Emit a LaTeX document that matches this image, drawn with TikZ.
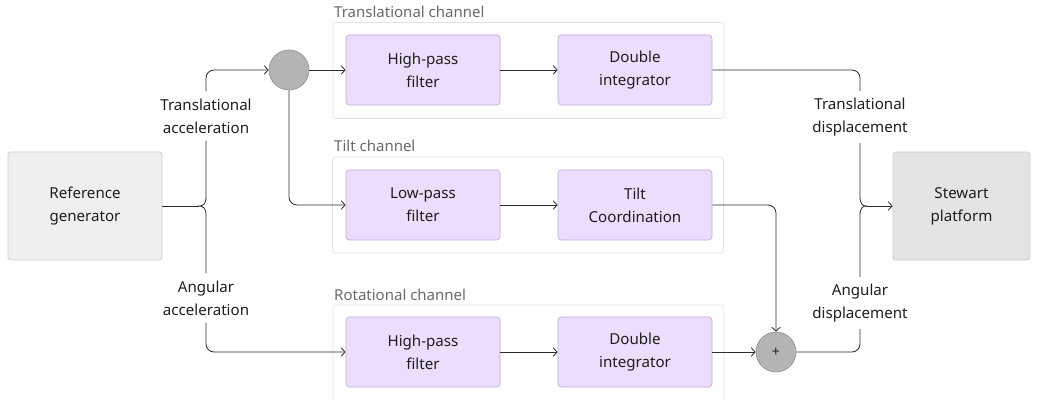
\documentclass[tikz,border=0pt]{standalone}
\usepackage{fontspec}
\setmainfont{Noto Sans}
\usepackage{xcolor}
\usetikzlibrary{arrows.meta,positioning,calc}
\definecolor{boxpurple}{RGB}{236,221,252}
\definecolor{edgepurple}{RGB}{196,170,232}
\definecolor{refgray}{RGB}{239,239,239}
\definecolor{platgray}{RGB}{228,228,228}
\definecolor{edgegray}{RGB}{205,205,205}
\definecolor{framegray}{RGB}{226,226,226}
\definecolor{sumgray}{RGB}{180,180,180}
\definecolor{sumedge}{RGB}{150,150,150}
\definecolor{textdark}{RGB}{30,30,30}
\definecolor{textgray}{RGB}{105,105,105}
\definecolor{linedark}{RGB}{45,45,45}

\begin{document}
\begin{tikzpicture}[x=0.03cm, y=-0.03cm,
    blk/.style={rectangle, draw=edgepurple, fill=boxpurple, rounded corners=1mm, line width=0.6pt,
               minimum width=4.62cm, minimum height=2.1cm, align=center, text=textdark,
               font=\fontsize{12.9}{19.5}\selectfont},
    endbox/.style={rectangle, draw=edgegray, rounded corners=0.8mm, line width=0.6pt,
               minimum height=3.24cm, align=center, text=textdark, font=\fontsize{12.9}{19.5}\selectfont},
    frame/.style={rectangle, draw=framegray, fill=white, rounded corners=0.8mm, line width=0.6pt,
               minimum width=11.73cm, minimum height=2.88cm},
    chan/.style={anchor=west, inner sep=0pt, text=textgray, font=\fontsize{12.8}{14}\selectfont},
    lbl/.style={align=center, inner xsep=2pt, inner ysep=6pt, text=textdark,
               font=\fontsize{12.9}{19.5}\selectfont},
    sumnode/.style={circle, draw=sumedge, fill=sumgray, line width=0.6pt, minimum size=1.2cm,
               inner sep=0pt, font=\fontsize{12}{12}\selectfont\bfseries, text=textdark},
    wire/.style={draw=linedark, line width=0.7pt, rounded corners=2.4mm},
    arr/.style={wire, -{Straight Barb[length=1.2mm,width=2.6mm]}}
]
    \useasboundingbox (0,0) rectangle (1037,400);
    \clip (0,0) rectangle (1037,400);

    % channel frames
    \node[frame] (ftrans) at (528.5,70.5) {};
    \node[frame] (ftilt) at (528,205) {};
    \node[frame] (frot) at (528.5,353) {};
    \node[chan] at (334,12) {Translational channel};
    \node[chan] at (334,146) {Tilt channel};
    \node[chan] at (334,295) {Rotational channel};

    % blocks
    \node[endbox, fill=refgray, minimum width=4.62cm] (ref) at (85,206) {Reference\\generator};
    \node[endbox, fill=platgray, minimum width=4.11cm] (plat) at (961.5,206) {Stewart\\platform};
    \node[blk] (hp1) at (423,70) {High-pass\\filter};
    \node[blk] (di1) at (635,70) {Double\\integrator};
    \node[blk] (lp) at (423,205) {Low-pass\\filter};
    \node[blk] (tc) at (635,205) {Tilt\\Coordination};
    \node[blk] (hp2) at (423,352) {High-pass\\filter};
    \node[blk] (di2) at (635,352) {Double\\integrator};
    \node[sumnode] (sumT) at (289,70) {};
    \node[sumnode] (sumR) at (776,352) {+};

    % signal labels
    \node[lbl] (tacc) at (206,116) {Translational\\acceleration};
    \node[lbl] (aacc) at (206,298) {Angular\\acceleration};
    \node[lbl] (tdisp) at (860,117) {Translational\\displacement};
    \node[lbl] (adisp) at (860,303) {Angular\\displacement};

    % junctions
    \coordinate (lj) at (199,206);
    \coordinate (rj) at (866,206);

    % connectors
    \draw[arr] (tacc.north) |- (sumT.west);
    \draw[arr] (sumT.east) -- (hp1.west);
    \draw[arr] (hp1) -- (di1);
    \draw[wire] (di1.east) -| (tdisp.north);
    \draw[arr] (sumT.south) |- (lp.west);
    \draw[arr] (lp) -- (tc);
    \draw[arr] (tc.east) -| (sumR.north);
    \draw[arr] (aacc.south) |- (hp2.west);
    \draw[arr] (hp2) -- (di2);
    \draw[arr] (di2) -- (sumR);
    \draw[wire] (sumR.east) -| (adisp.south);

    \draw[draw=linedark, line width=0.7pt] (ref.east) -- (lj);
    \draw[draw=linedark, line width=0.7pt] (tacc.south) -- (206,197)
        .. controls (206,204) and (203,206) .. (lj)
        .. controls (203,206) and (206,208) .. (206,215) -- (aacc.north);
    \draw[draw=linedark, line width=0.7pt] (tdisp.south) -- (860,197)
        .. controls (860,204) and (863,206) .. (rj)
        .. controls (863,206) and (860,208) .. (860,215) -- (adisp.north);
    \draw[arr] (rj) -- (plat.west);
\end{tikzpicture}
\end{document}
